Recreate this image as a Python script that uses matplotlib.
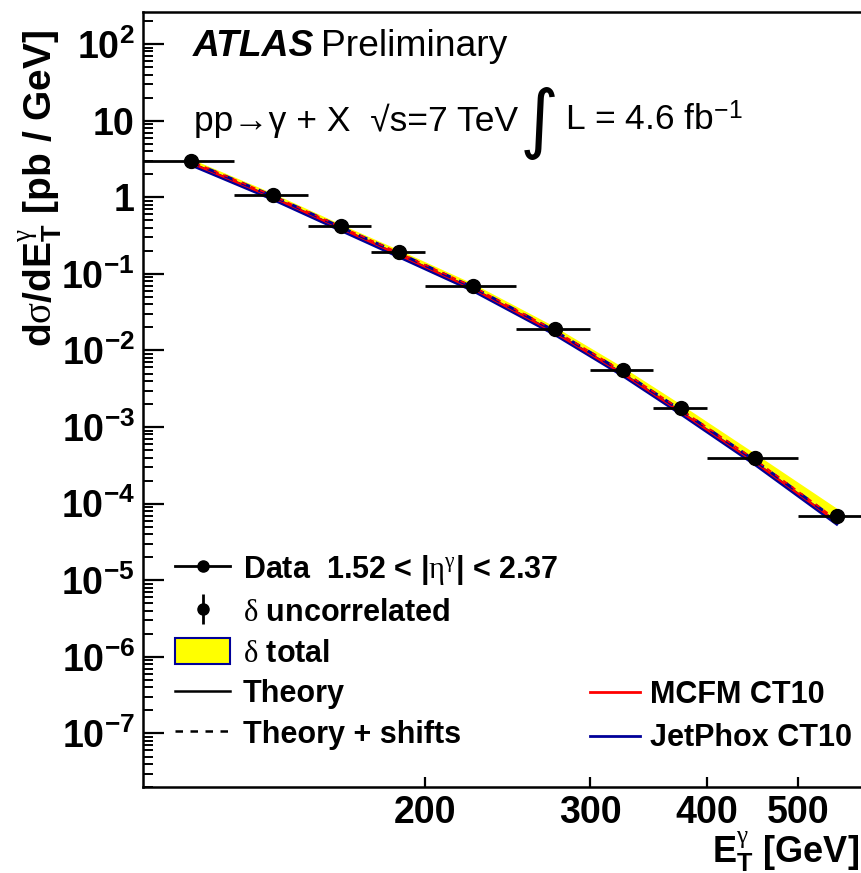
import numpy as np
import matplotlib
matplotlib.use("Agg")
import matplotlib.pyplot as plt
from matplotlib.lines import Line2D
from matplotlib.patches import Patch
from matplotlib.ticker import FixedLocator, NullLocator, LogLocator, FuncFormatter

plt.rcParams['font.family'] = ['Liberation Sans', 'DejaVu Sans']
plt.rcParams['mathtext.fontset'] = 'custom'
plt.rcParams['mathtext.rm'] = 'Liberation Serif'
plt.rcParams['mathtext.sf'] = 'Liberation Sans'
plt.rcParams['mathtext.bf'] = 'Liberation Sans:bold'
plt.rcParams['mathtext.it'] = 'Liberation Serif:italic'
plt.rcParams['mathtext.default'] = 'rm'

# photon ET bins [GeV]
bin_lo = np.array([100, 125, 150, 175, 200, 250, 300, 350, 400, 500])
bin_hi = np.array([125, 150, 175, 200, 250, 300, 350, 400, 500, 600])
et = np.array([112.5, 137.5, 162.5, 187.5, 225, 275, 325, 375, 450, 550])

# measured dsigma/dET [pb/GeV], 1.52 < |eta| < 2.37
xsec = np.array([3.00, 1.07, 0.421, 0.1925, 0.0693, 0.01884, 0.00554, 0.00177, 3.97e-4, 6.88e-5])
stat_pct = np.array([1, 1, 1, 1, 1.5, 2, 2.5, 3, 4, 8])        # uncorrelated
tot_up_pct = np.array([6, 6, 6, 7, 8, 9, 10, 12, 14, 27])     # total, up
tot_dn_pct = np.array([9, 9, 9, 10, 10, 11, 12, 12, 14, 17])  # total, down

# NLO predictions (CT10)
jetphox = np.array([2.70, 0.963, 0.379, 0.171, 0.0617, 0.0166, 0.00482, 0.00152, 3.33e-4, 5.57e-5])
mcfm = np.array([2.79, 0.995, 0.392, 0.177, 0.0637, 0.0171, 0.00497, 0.00157, 3.45e-4, 5.80e-5])
jetphox_shift = np.array([2.91, 1.04, 0.408, 0.186, 0.0668, 0.0180, 0.00525, 0.00166, 3.65e-4, 6.05e-5])
mcfm_shift = np.array([2.96, 1.05, 0.414, 0.189, 0.0680, 0.0183, 0.00535, 0.00169, 3.75e-4, 6.20e-5])

x_ticks = [200, 300, 400, 500]
y_ticks = [1e-7, 1e-6, 1e-5, 1e-4, 1e-3, 1e-2, 1e-1, 1, 10, 100]

W, H = 861, 873
fig = plt.figure(figsize=(W / 100, H / 100), dpi=100)
ax = fig.add_axes([143 / W, 1 - 787 / H, 729 / W, 775 / H])
ax.set_xscale('log')
ax.set_yscale('log')
ax.set_xlim(100, 600)
ax.set_ylim(2e-8, 262)

navy = '#000099'
ax.fill_between(et, xsec * (1 - tot_dn_pct / 100), xsec * (1 + tot_up_pct / 100),
                color='#ffff00', lw=0, zorder=1)
ax.plot(et, jetphox, color=navy, lw=3.2, zorder=2)
ax.plot(et, mcfm, color='red', lw=1.5, zorder=3)
ax.plot(et, jetphox_shift, color=navy, lw=2.2, ls=(0, (3, 3)), zorder=4)
ax.plot(et, mcfm_shift, color='red', lw=1.2, ls=(3, (3, 3)), zorder=4)
ax.errorbar(et, xsec, xerr=[et - bin_lo, bin_hi - et], yerr=xsec * stat_pct / 100,
            fmt='o', color='k', ms=10, elinewidth=2, capsize=0, zorder=6)

for s in ax.spines.values():
    s.set_linewidth(1.8)

ax.xaxis.set_major_locator(FixedLocator(x_ticks))
ax.xaxis.set_minor_locator(NullLocator())
ax.xaxis.set_major_formatter(FuncFormatter(lambda v, p: '%d' % v))
ax.yaxis.set_major_locator(FixedLocator(y_ticks))
ax.yaxis.set_minor_locator(LogLocator(base=10, subs=np.arange(2, 10), numticks=20))


def decade_label(v, pos):
    e = int(round(np.log10(v)))
    if e == 0:
        return '1'
    if e == 1:
        return '10'
    return r'$\mathbf{10^{%d}}$' % e


ax.yaxis.set_major_formatter(FuncFormatter(decade_label))
ax.tick_params(axis='x', which='major', direction='in', length=7.5, width=1.6, pad=6,
               labelsize=27)
ax.tick_params(axis='y', which='major', direction='in', length=15, width=1.6, pad=6,
               labelsize=27)
ax.tick_params(axis='y', which='minor', direction='in', length=7, width=1.4)
for lab in ax.get_xticklabels() + ax.get_yticklabels():
    lab.set_fontweight('bold')

ax.set_ylabel(r'd$\sigma$/dE$_{\mathbf{T}}^{\gamma}$ [pb / GeV]', fontsize=28,
              fontweight='bold', ha='right')
ax.yaxis.set_label_coords((64 - 143) / 729, (787 - 30) / 775)
ax.set_xlabel(r'E$_{\mathbf{T}}^{\gamma}$ [GeV]', fontsize=26, fontweight='bold', ha='right')
ax.xaxis.set_label_coords((859 - 143) / 729, (787 - 830) / 775)

# header
fig.text(193 / W, 1 - 56 / H, 'ATLAS', fontsize=26.8, fontweight='bold', fontstyle='italic',
         va='baseline')
fig.text(321 / W, 1 - 56 / H, 'Preliminary', fontsize=26.8, va='baseline')
fig.text(194 / W, 1 - 131 / H, 'pp\u2192\u03b3 + X  \u221as=7 TeV',
         fontsize=25.5, va='baseline')
fig.text(539 / W, 1 - 123 / H, '\u222b', fontsize=54, family='DejaVu Sans',
         ha='center', va='center')
fig.text(565 / W, 1 - 131 / H, r'L = 4.6 fb$^{\mathsf{-1}}$', fontsize=25.5, va='baseline')

# legends
prop = {'family': 'Liberation Sans', 'weight': 'bold', 'size': 22}
unc = ax.errorbar([], [], yerr=[], fmt='o', color='k', ms=8, elinewidth=2, capsize=0)
h_left = [
    Line2D([], [], color='k', lw=2, marker='o', ms=8),
    unc,
    Patch(facecolor='#ffff00', edgecolor=navy, lw=1.5),
    Line2D([], [], color='k', lw=1.8),
    Line2D([], [], color='k', lw=1.8, ls=(0, (3, 3))),
]
l_left = [
    r'Data  1.52 < |$\eta^{\gamma}$| < 2.37',
    r'$\delta$ uncorrelated',
    r'$\delta$ total',
    'Theory',
    'Theory + shifts',
]
leg1 = ax.legend(h_left, l_left, loc='upper left', bbox_to_anchor=(175 / W, 1 - 553 / H),
                 bbox_transform=fig.transFigure, frameon=False, prop=prop,
                 handlelength=1.8, handleheight=0.92, handletextpad=0.42,
                 labelspacing=0.34, borderpad=0, borderaxespad=0)
ax.add_artist(leg1)
h_right = [Line2D([], [], color='red', lw=2), Line2D([], [], color=navy, lw=2)]
ax.legend(h_right, ['MCFM CT10', 'JetPhox CT10'], loc='upper left',
          bbox_to_anchor=(590 / W, 1 - 680 / H), bbox_transform=fig.transFigure,
          frameon=False, prop=prop, handlelength=1.65, handletextpad=0.33,
          labelspacing=0.44, borderpad=0, borderaxespad=0)

fig.savefig('out.png', dpi=100)
